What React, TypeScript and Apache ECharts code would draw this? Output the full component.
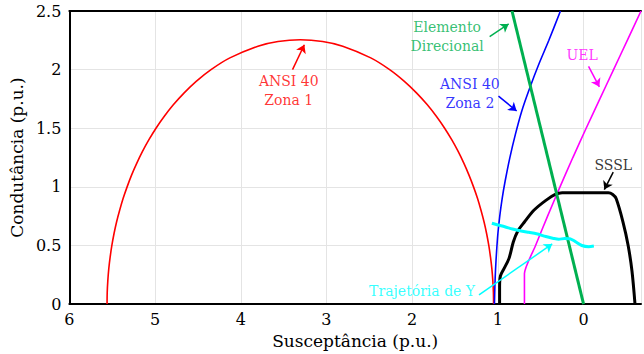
import React, { useEffect, useRef } from "react";
import * as echarts from "echarts";

// Susceptância (B) vs Condutância (G), in p.u.
const zona1: number[][] = [
  [5.56, 0], [5.558, 0.1], [5.551, 0.2], [5.54, 0.3], [5.524, 0.4], [5.504, 0.5], [5.479, 0.6],
  [5.449, 0.7], [5.413, 0.8], [5.373, 0.9], [5.326, 1.0], [5.274, 1.1], [5.214, 1.2], [5.148, 1.3],
  [5.073, 1.4], [4.989, 1.5], [4.894, 1.6], [4.787, 1.7], [4.663, 1.8], [4.52, 1.9], [4.347, 2.0],
  [4.127, 2.1], [3.8, 2.2], [3.565, 2.24], [3.305, 2.255], [3.045, 2.24], [2.81, 2.2], [2.483, 2.1],
  [2.263, 2.0], [2.091, 1.9], [1.947, 1.8], [1.823, 1.7], [1.716, 1.6], [1.621, 1.5], [1.537, 1.4],
  [1.462, 1.3], [1.396, 1.2], [1.337, 1.1], [1.284, 1.0], [1.237, 0.9], [1.197, 0.8], [1.161, 0.7],
  [1.131, 0.6], [1.106, 0.5], [1.086, 0.4], [1.07, 0.3], [1.059, 0.2], [1.052, 0.1], [1.05, 0],
];
const zona2: number[][] = [
  [1.04, 0], [1.035, 0.15], [1.027, 0.3], [1.015, 0.45], [1.0, 0.6], [0.978, 0.75], [0.95, 0.9],
  [0.915, 1.05], [0.86, 1.25], [0.795, 1.45], [0.72, 1.65], [0.625, 1.85], [0.52, 2.05],
  [0.405, 2.25], [0.27, 2.5],
];
const direcional: number[][] = [[0, 0], [0.835, 2.5]];
const uel: number[][] = [
  [0.69, 0], [0.69, 0.26], [0.56, 0.5], [0.42, 0.75], [0.275, 1.0], [0.125, 1.25], [-0.03, 1.5],
  [-0.19, 1.75], [-0.35, 2.0], [-0.51, 2.25], [-0.67, 2.5],
];
const sssl: number[][] = [
  [0.98, 0], [0.98, 0.15], [0.97, 0.24], [0.93, 0.3], [0.87, 0.39], [0.82, 0.53], [0.77, 0.62],
  [0.69, 0.7], [0.58, 0.8], [0.44, 0.885], [0.33, 0.935], [0.25, 0.95], [-0.29, 0.95],
  [-0.34, 0.935], [-0.38, 0.9], [-0.46, 0.7], [-0.52, 0.5], [-0.565, 0.28], [-0.6, 0],
];
const trajetoria: number[][] = [
  [1.07, 0.69], [1.0, 0.675], [0.92, 0.66], [0.83, 0.64], [0.77, 0.63], [0.64, 0.612],
  [0.55, 0.6], [0.44, 0.576], [0.35, 0.56], [0.29, 0.553], [0.22, 0.56], [0.16, 0.558],
  [0.1, 0.535], [0.02, 0.5], [-0.06, 0.49], [-0.12, 0.495],
];

const xTicks = [6, 5, 4, 3, 2, 1, 0];
const yTicks = [0, 0.5, 1, 1.5, 2, 2.5];

// annotation labels and arrows (data coordinates)
const labels = [
  { text: "ANSI 40\nZona 1", at: [3.44, 1.818], color: "#ff0000" },
  { text: "Elemento\nDirecional", at: [1.592, 2.28], color: "#00b050" },
  { text: "ANSI 40\nZona 2", at: [1.327, 1.797], color: "#0000ff" },
  { text: "UEL", at: [0.018, 2.127], color: "#ff00ff" },
  { text: "SSSL", at: [-0.346, 1.186], color: "#000000" },
  { text: "Trajetória de Y", at: [1.884, 0.11], color: "#00ffff" },
];
const arrows = [
  { from: [3.396, 2.0], to: [3.258, 2.212], color: "#ff0000" },
  { from: [1.096, 2.282], to: [0.874, 2.39], color: "#00b050" },
  { from: [0.993, 1.774], to: [0.781, 1.647], color: "#0000ff" },
  { from: [-0.058, 2.028], to: [-0.184, 1.853], color: "#ff00ff" },
  { from: [-0.346, 1.125], to: [-0.242, 0.977], color: "#000000" },
  { from: [1.22, 0.079], to: [0.366, 0.513], color: "#00ffff" },
];

const FONT = "DejaVu Serif";

export default function App() {
  const ref = useRef<HTMLDivElement>(null);
  useEffect(() => {
    if (!ref.current) return;
    const chart = echarts.init(ref.current, null, { renderer: "svg" });
    const lineSeries = (name: string, data: number[][], color: string, width: number, smooth: number) => ({
      name,
      type: "line",
      data,
      showSymbol: false,
      symbol: "none",
      smooth,
      lineStyle: { color, width },
      itemStyle: { color },
      z: 3,
    });
    chart.setOption({
      animation: false,
      backgroundColor: "#ffffff",
      grid: { left: 65, right: 1, top: 11, bottom: 48, containLabel: false },
      xAxis: [
        {
          type: "value",
          inverse: true,
          min: -0.67,
          max: xTicks[0],
          name: "Susceptância (p.u.)",
          nameLocation: "middle",
          nameGap: 20,
          nameTextStyle: { fontFamily: FONT, fontSize: 17, color: "#000" },
          axisLine: { show: true, onZero: false, lineStyle: { color: "#000", width: 2 } },
          axisTick: { show: false },
          axisLabel: {
            fontFamily: FONT,
            fontSize: 16,
            color: "#000",
            margin: 7,
            formatter: (v: number) => (xTicks.includes(v) ? String(v) : ""),
          },
          splitLine: { show: true, lineStyle: { color: "#e4e4e4", width: 1 } },
        },
        {
          type: "value",
          position: "top",
          inverse: true,
          min: -0.67,
          max: xTicks[0],
          axisLine: { show: true, onZero: false, lineStyle: { color: "#000", width: 2 } },
          axisTick: { show: false },
          axisLabel: { show: false },
          splitLine: { show: false },
        },
      ],
      yAxis: {
        type: "value",
        min: yTicks[0],
        max: yTicks[yTicks.length - 1],
        interval: 0.5,
        name: "Condutância (p.u.)",
        nameLocation: "middle",
        nameGap: 35,
        nameRotate: 90,
        nameTextStyle: { fontFamily: FONT, fontSize: 17, color: "#000" },
        axisLine: { show: true, onZero: false, lineStyle: { color: "#000", width: 2 } },
        axisTick: { show: false },
        axisLabel: { fontFamily: FONT, fontSize: 16, color: "#000", margin: 8 },
        splitLine: { show: true, lineStyle: { color: "#e4e4e4", width: 1 } },
      },
      series: [
        lineSeries("ANSI 40 Zona 1", zona1, "#ff0000", 1.6, 0.3),
        lineSeries("ANSI 40 Zona 2", zona2, "#0000ff", 1.6, 0.3),
        lineSeries("UEL", uel, "#ff00ff", 1.6, 0.2),
        lineSeries("SSSL", sssl, "#000000", 3, 0.3),
        lineSeries("Elemento Direcional", direcional, "#00b050", 3, 0),
        lineSeries("Trajetória de Y", trajetoria, "#00ffff", 3, 0.3),
        {
          type: "lines",
          coordinateSystem: "cartesian2d",
          symbol: ["none", "arrow"],
          symbolSize: 8,
          z: 5,
          data: arrows.map((a) => ({
            coords: [a.from, a.to],
            lineStyle: { color: a.color, width: 1.5, opacity: 1 },
          })),
        },
        {
          type: "scatter",
          symbolSize: 1,
          itemStyle: { color: "rgba(0,0,0,0)" },
          z: 6,
          data: labels.map((l) => ({
            value: l.at,
            label: {
              show: true,
              position: "inside",
              formatter: l.text,
              color: l.color,
              fontFamily: FONT,
              fontSize: 14,
              lineHeight: 19,
              align: "center",
            },
          })),
        },
      ],
    });
    return () => chart.dispose();
  }, []);
  return (
    <div
      ref={ref}
      style={{ position: "absolute", left: 0, top: 0, width: 644, height: 354, background: "#fff" }}
    />
  );
}
